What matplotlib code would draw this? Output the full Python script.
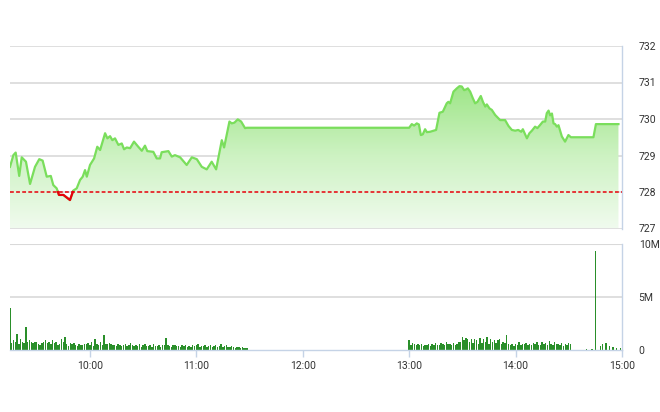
import numpy as np
import matplotlib
matplotlib.use("Agg")
import matplotlib.pyplot as plt
from matplotlib.patches import Polygon
from matplotlib.colors import LinearSegmentedColormap

plt.rcParams['font.family'] = ['Roboto', 'DejaVu Sans']

# ---- data (time in minutes after 09:15) ----
price_t = [0, 1.9, 3.2, 5.2, 6.6, 9.0, 11.3, 14.1, 16.5, 18.4, 20.7, 23.0, 24.4, 26.3,
           27.6, 30.1, 32.0, 33.8, 34.8, 35.7, 37.6, 39.5, 41.0, 42.3, 43.3, 45.1, 47.4,
           49.2, 50.8, 53.6, 54.9, 56.4, 57.7, 59.2, 61.1, 63.0, 64.3, 65.8, 67.7, 69.9,
           72.3, 74.3, 76.1, 77.4, 80.8, 82.7, 84.6, 85.5, 89.3, 91.2, 93.0, 95.9, 96.8,
           99.6, 102.5, 105.3, 108.1, 110.9, 113.7, 116.2, 119.4, 120.7, 123.7, 125.0,
           126.5, 128.4, 130.3, 132.5, 133.5, 135, 225, 226.5, 227.8, 229.3, 230.5,
           231.6, 232.7, 234.0, 235.0, 236.8, 240.2, 242.1, 244.0, 246.2, 247.1, 248.1,
           250.0, 251.9, 253.4, 254.7, 256.0, 257.1, 258.1, 259.4, 260.9, 262.2, 263.5,
           265.4, 266.6, 267.9, 268.8, 270.3, 271.6, 273.5, 276.3, 279.1, 281.0, 282.9,
           284.8, 286.5, 288.2, 289.1, 291.4, 292.8, 294.2, 296.0, 297.3, 298.9, 300.4,
           301.7, 302.6, 303.6, 304.5, 305.5, 306.4, 307.3, 308.3, 309.2, 311.1, 312.9,
           314.8, 316.2, 328.9, 330.3, 343.0]
price_v = [728.69, 729.01, 729.08, 728.44, 728.95, 728.83, 728.22, 728.69, 728.90, 728.86,
           728.42, 728.44, 728.19, 728.10, 727.92, 727.92, 727.85, 727.78, 727.92, 728.04,
           728.10, 728.33, 728.42, 728.60, 728.42, 728.74, 728.92, 729.24, 729.15, 729.61,
           729.47, 729.53, 729.42, 729.47, 729.29, 729.33, 729.17, 729.22, 729.20, 729.38,
           729.24, 729.13, 729.27, 729.12, 729.10, 728.92, 728.92, 729.09, 729.12, 728.97,
           729.01, 728.95, 728.90, 728.74, 728.95, 728.90, 728.69, 728.62, 728.83, 728.62,
           729.42, 729.22, 729.93, 729.88, 729.90, 729.99, 729.93, 729.75, 729.76, 729.76,
           729.76, 729.86, 729.82, 729.88, 729.85, 729.56, 729.58, 729.72, 729.64, 729.65,
           729.70, 730.17, 730.20, 730.43, 730.47, 730.43, 730.75, 730.84, 730.90, 730.89,
           730.79, 730.81, 730.84, 730.75, 730.57, 730.43, 730.47, 730.63, 730.47, 730.34,
           730.40, 730.29, 730.25, 730.11, 729.97, 729.97, 729.81, 729.70, 729.68, 729.70,
           729.65, 729.72, 729.47, 729.61, 729.68, 729.79, 729.75, 729.84, 729.93, 729.93,
           730.16, 730.23, 730.10, 730.15, 729.88, 729.86, 729.79, 729.83, 729.52, 729.38,
           729.56, 729.50, 729.50, 729.86, 729.86]
ref_price = 728.0

vol_am = [4.0, 0.7, 0.9, 0.8, 1.5, 0.6, 1.0, 0.8, 0.7, 2.2,
          0.8, 0.9, 0.8, 0.7, 0.75, 0.8, 0.6, 0.5, 0.7, 0.8, 0.9,
          0.7, 0.75, 0.6, 0.9, 0.7, 0.8, 0.5, 0.6, 1.0, 0.8,
          1.2, 0.6, 0.4, 0.7, 0.6, 0.7, 0.5, 0.4, 0.6, 0.5,
          0.45, 0.55, 0.6, 0.7, 0.5, 0.8, 0.4, 1.0, 0.6, 0.5,
          0.8, 0.5, 1.4, 0.6, 0.55, 0.7, 0.6, 0.45, 0.5, 0.4,
          0.6, 0.5, 0.35, 0.45, 0.6, 0.4, 0.5, 0.7, 0.45, 0.35,
          0.5, 0.4, 0.6, 0.3, 0.45, 0.55, 0.35, 0.4, 0.5, 0.3,
          0.6, 0.35, 0.4, 0.5, 0.3, 0.45, 0.5, 1.15, 0.5, 0.35,
          0.3, 0.45, 0.5, 0.35, 0.4, 0.3, 0.5, 0.35, 0.45, 0.3,
          0.4, 0.3, 0.5, 0.35, 0.45, 0.6, 0.3, 0.4, 0.35, 0.5,
          0.3, 0.4, 0.45, 0.3, 0.35, 0.5, 0.3, 0.4, 0.55, 0.3,
          0.35, 0.45, 0.3, 0.25, 0.4, 0.3, 0.2, 0.3, 0.25, 0.2,
          0.25, 0.2, 0.15, 0.2]
vol_pm = [0.95, 0.5, 0.7, 0.6, 0.45, 0.55, 0.5, 0.6, 0.4, 0.5,
          0.45, 0.55, 0.4, 0.6, 0.5, 0.7, 0.45, 0.5, 0.65, 0.55,
          0.5, 0.8, 0.55, 0.6, 0.45, 0.7, 0.5, 0.6, 0.75, 0.8,
          1.25, 0.9, 1.1, 1.0, 0.8, 1.05, 0.7, 1.0, 0.9, 0.6,
          1.1, 0.7, 1.0, 0.8, 1.2, 0.6, 1.05, 0.8, 0.9, 0.7,
          0.9, 1.0, 0.6, 0.8, 0.7, 1.45, 0.6, 0.5, 0.55, 0.4,
          0.6, 0.45, 0.8, 0.5, 0.6, 0.55, 0.65, 0.5, 0.6, 0.45,
          0.7, 0.55, 0.75, 0.5, 0.45, 0.8, 0.6, 0.7, 0.5, 0.85,
          0.6, 0.5, 0.75, 0.55, 0.6, 0.5, 0.7, 0.4, 0.55, 0.5, 0.65, 0.6]
vol_late_t = [325, 328, 330, 333, 334, 336, 338, 340, 342, 344]
vol_late_v = [0.1, 0.1, 9.35, 0.4, 0.55, 0.7, 0.4, 0.3, 0.2, 0.2]

x_ticks = [45, 105, 165, 225, 285, 345]
x_labels = ["10:00", "11:00", "12:00", "13:00", "14:00", "15:00"]
price_ticks = [727, 728, 729, 730, 731, 732]
vol_ticks = [0, 5, 10]
vol_labels = ["0", "5M", "10M"]

# ---- figure ----
W, H = 660, 412
fig = plt.figure(figsize=(W / 100, H / 100), dpi=100)
L, R = 10 / W, 622 / W
axp = fig.add_axes([L, 1 - 228.5 / H, R - L, (228.5 - 46) / H])
axv = fig.add_axes([L, 1 - 350 / H, R - L, (350 - 244) / H])

grid_c = '#d9d9d9'
axis_c = '#c5d3e6'
txt_c = '#333333'
xmin, xmax = 0, 345

# price panel
t = np.array(price_t, float)
p = np.array(price_v, float)
axp.set_xlim(xmin, xmax)
axp.set_ylim(727, 732)
for yv in price_ticks:
    axp.axhline(yv, color=grid_c, lw=1.2, zorder=0)

poly_xy = np.vstack([np.column_stack([t, p]), [[t[-1], 727], [t[0], 727]]])
poly = Polygon(poly_xy, closed=True, facecolor='none', edgecolor='none')
axp.add_patch(poly)
cmap = LinearSegmentedColormap.from_list('g', ['#f0fbee', '#cdf2c2', '#9ce585'])
grad = np.linspace(0, 1, 256).reshape(-1, 1)
im = axp.imshow(grad, extent=[xmin, xmax, 727, 731], origin='lower', cmap=cmap,
                aspect='auto', zorder=1)
im.set_clip_path(poly)

# densify at crossings of reference price
dt, dp = [t[0]], [p[0]]
for i in range(1, len(t)):
    a, b = p[i - 1], p[i]
    if (a - ref_price) * (b - ref_price) < 0:
        f = (ref_price - a) / (b - a)
        dt.append(t[i - 1] + f * (t[i] - t[i - 1]))
        dp.append(ref_price)
    dt.append(t[i]); dp.append(p[i])
dt = np.array(dt); dp = np.array(dp)
axp.plot(dt, dp, color='#7ade5c', lw=1.6, zorder=3, solid_joinstyle='round')
red = np.ma.masked_where(dp > ref_price + 1e-9, dp)
axp.plot(dt, red, color='#e8000b', lw=1.6, zorder=4)
axp.axhline(ref_price, color='#e8000b', lw=1.1, ls=(0, (2.5, 1.5)), zorder=5)

axp.yaxis.tick_right()
axp.set_yticks(price_ticks)
axp.set_yticklabels([str(v) for v in price_ticks])
axp.tick_params(axis='y', length=0, pad=12, labelsize=7.5, labelcolor=txt_c)
axp.set_xticks([])
for s in ['left', 'top', 'bottom']:
    axp.spines[s].set_visible(False)
axp.spines['right'].set_color(axis_c)
axp.spines['right'].set_linewidth(1)

# volume panel
axv.set_xlim(xmin, xmax)
axv.set_ylim(0, 10)
axv.axhline(5, color=grid_c, lw=1.2, zorder=0)
axv.axhline(10, color=grid_c, lw=1.5, zorder=0)
bar_c = '#2a8f2a'
axv.bar(np.arange(len(vol_am)), vol_am, width=0.8, color=bar_c, zorder=2)
axv.bar(225 + np.arange(len(vol_pm)), vol_pm, width=0.8, color=bar_c, zorder=2)
axv.bar(vol_late_t, vol_late_v, width=0.8, color=bar_c, zorder=2)

axv.yaxis.tick_right()
axv.set_yticks(vol_ticks)
axv.set_yticklabels(vol_labels)
axv.tick_params(axis='y', length=0, pad=12, labelsize=7.5, labelcolor=txt_c)
axv.set_xticks(x_ticks)
axv.set_xticklabels(x_labels)
axv.tick_params(axis='x', length=5, width=1, color=axis_c, pad=3,
                labelsize=7.5, labelcolor=txt_c)
for s in ['left', 'top']:
    axv.spines[s].set_visible(False)
for s in ['right', 'bottom']:
    axv.spines[s].set_color(axis_c)
    axv.spines[s].set_linewidth(1)

fig.savefig('out.png', dpi=100)
